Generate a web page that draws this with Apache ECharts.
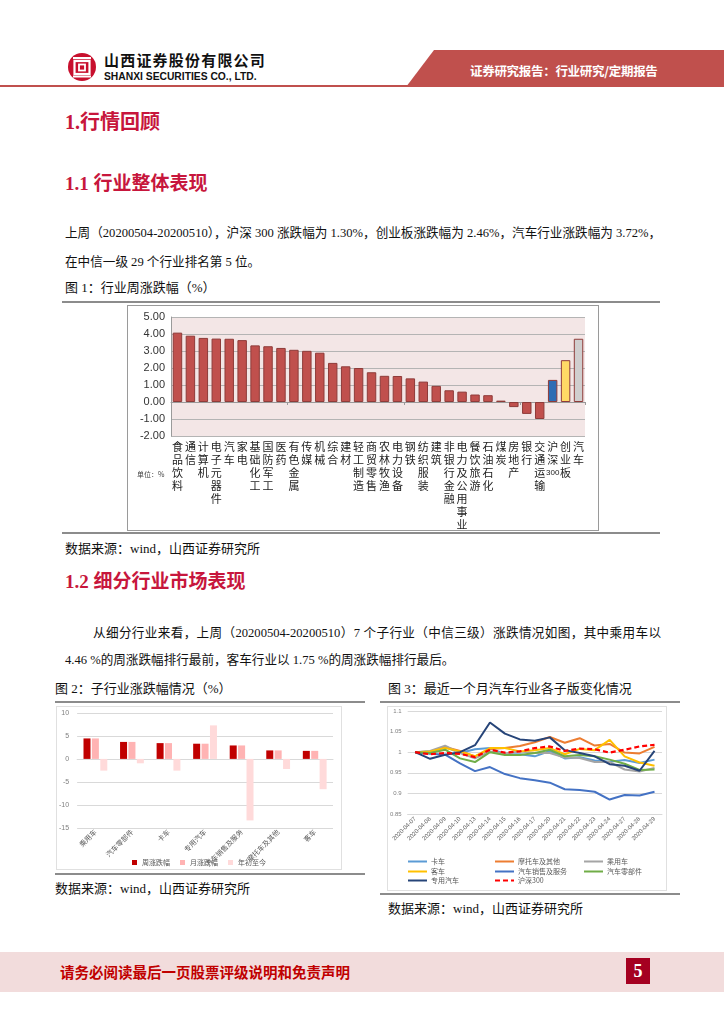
<!DOCTYPE html>
<html><head><meta charset="utf-8">
<script src="https://cdn.jsdelivr.net/npm/echarts@6/dist/echarts.min.js"></script>
<style>
html,body{margin:0;padding:0;background:#fff;}
#page{position:relative;width:724px;height:1024px;overflow:hidden;font-family:"Liberation Serif","Noto Sans CJK SC",serif;color:#111;}
.t{position:absolute;white-space:nowrap;}
.h{color:#C7163C;font-weight:bold;}
.p{font-size:12.6px;line-height:16px;}
.j{text-align:justify;text-align-last:justify;}
.cap{font-size:13px;line-height:16px;}
.rule{position:absolute;height:2px;background:#8c8c8c;}
.box{position:absolute;box-sizing:border-box;}
</style></head>
<body><div id="page">
<!-- header -->
<svg class="t" style="left:67px;top:52px" width="30" height="30" viewBox="0 0 30 30">
 <circle cx="15" cy="15" r="14" fill="#C8102E"/>
 <rect x="6" y="5" width="18" height="2.2" fill="#fff"/>
 <rect x="7.5" y="9" width="15" height="13" fill="none" stroke="#fff" stroke-width="2.2"/>
 <rect x="12" y="12.5" width="6" height="6" fill="none" stroke="#fff" stroke-width="1.8"/>
 <rect x="6" y="23.5" width="18" height="2" fill="#fff"/>
</svg>
<div class="t" style="left:104px;top:50px;font-family:'Noto Sans CJK SC';font-weight:bold;font-size:15px;letter-spacing:1.2px;line-height:20px;color:#111">山西证券股份有限公司</div>
<div class="t" style="left:104px;top:70px;font-family:'Liberation Sans';font-weight:bold;font-size:10.3px;line-height:14px;color:#111">SHANXI SECURITIES CO., LTD.</div>
<div class="t" style="left:0;top:85px;width:440px;height:2px;background:#C0504D"></div>
<div class="t" style="left:406px;top:50px;width:318px;height:37px;background:#C0504D;clip-path:polygon(28px 0,100% 0,100% 100%,0 100%)"></div>
<div class="t" style="left:470px;top:62px;font-family:'Noto Sans CJK SC';font-weight:bold;font-size:12.5px;line-height:18px;color:#fff;letter-spacing:-0.3px">证券研究报告：行业研究/定期报告</div>

<div class="t h" style="left:65px;top:109px;font-size:20px;line-height:26px">1.行情回顾</div>
<div class="t h" style="left:65px;top:171px;font-size:19px;line-height:26px">1.1 行业整体表现</div>
<div class="t p j" style="left:65px;top:225px;width:596px">上周（20200504-20200510），沪深 300 涨跌幅为 1.30%，创业板涨跌幅为 2.46%，汽车行业涨跌幅为 3.72%，</div>
<div class="t p" style="left:65px;top:254px">在中信一级 29 个行业排名第 5 位。</div>
<div class="t cap" style="left:65px;top:280px">图 1：行业周涨跌幅（%）</div>
<div class="rule" style="left:62px;top:301px;width:598px"></div>
<div class="box" style="left:127px;top:305px;width:472px;height:226px;border:1px solid #9a9a9a"></div>
<div id="c1" class="box" style="left:127px;top:305px;width:472px;height:226px"></div>
<div class="rule" style="left:62px;top:532px;width:598px"></div>
<div class="t cap" style="left:65px;top:541px">数据来源：wind，山西证券研究所</div>

<div class="t h" style="left:65px;top:569px;font-size:19px;line-height:26px">1.2 细分行业市场表现</div>
<div class="t p j" style="left:93px;top:625px;width:568px">从细分行业来看，上周（20200504-20200510）7 个子行业（中信三级）涨跌情况如图，其中乘用车以</div>
<div class="t p" style="left:65px;top:652px">4.46 %的周涨跌幅排行最前，客车行业以 1.75 %的周涨跌幅排行最后。</div>

<div class="t cap" style="left:55px;top:681px">图 2：子行业涨跌幅情况（%）</div>
<div class="t cap" style="left:388px;top:681px">图 3：最近一个月汽车行业各子版变化情况</div>
<div class="rule" style="left:55px;top:701px;width:310px"></div>
<div class="rule" style="left:380px;top:701px;width:300px"></div>
<div class="box" style="left:56px;top:706px;width:286px;height:164px;border:1px solid #e0e0e0"></div>
<div id="c2" class="box" style="left:56px;top:706px;width:286px;height:164px"></div>
<div class="box" style="left:387px;top:706px;width:280px;height:185px;border:1px solid #e0e0e0"></div>
<div id="c3" class="box" style="left:387px;top:706px;width:280px;height:185px"></div>
<div class="rule" style="left:55px;top:873px;width:310px"></div>
<div class="rule" style="left:380px;top:893px;width:300px"></div>
<div class="t cap" style="left:55px;top:881px">数据来源：wind，山西证券研究所</div>
<div class="t cap" style="left:388px;top:901px">数据来源：wind，山西证券研究所</div>

<!-- footer -->
<div class="t" style="left:0;top:952px;width:724px;height:40px;background:#F2DCDC"></div>
<div class="t" style="left:60px;top:962px;font-family:'Noto Sans CJK SC';font-weight:bold;font-size:14.5px;line-height:20px;color:#C00000">请务必阅读最后一页股票评级说明和免责声明</div>
<div class="t" style="left:626px;top:958px;width:24px;height:26px;background:#A50021;color:#fff;font-family:'Liberation Serif';font-weight:bold;font-size:18px;line-height:26px;text-align:center">5</div>
</div>
<script>
// ---------- Chart 1 data ----------
const industryNames = ['食品饮料','通信','计算机','电子元器件','汽车','家电','基础化工','国防军工','医药','有色金属','传媒','机械','综合','建材','轻工制造','商贸零售','农林牧渔','电力设备','钢铁','纺织服装','建筑','非银行金融','电力及公用事业','餐饮旅游','石油石化','煤炭','房地产','银行','交通运输','沪深300','创业板','汽车'];
const industryValues = [4.08,3.90,3.77,3.73,3.72,3.64,3.33,3.28,3.18,3.07,3.01,2.90,2.30,2.10,2.00,1.75,1.54,1.53,1.39,1.20,0.95,0.69,0.61,0.44,0.40,0.08,-0.30,-0.70,-1.00,1.30,2.46,3.72];
const yTicks1 = [-2,-1,0,1,2,3,4,5];

// ---------- Chart 2 data ----------
const subIndustries = ['乘用车','汽车零部件','卡车','专用汽车','汽车销售及服务','摩托车及其他','客车'];
const weeklyChange = [4.46,3.70,3.44,3.31,2.93,1.85,1.75];
const monthlyChange = [4.46,3.70,3.44,3.31,2.93,1.85,1.75];
const ytdChange = [-2.55,-0.96,-2.55,7.30,-13.40,-2.20,-6.60];

// ---------- Chart 3 data ----------
const dates = ['2020-04-07','2020-04-08','2020-04-09','2020-04-10','2020-04-13','2020-04-14','2020-04-15','2020-04-16','2020-04-17','2020-04-20','2020-04-21','2020-04-22','2020-04-23','2020-04-24','2020-04-27','2020-04-28','2020-04-29'];
const truck      = [1.000,1.002,1.013,0.998,1.007,1.010,0.995,0.995,0.990,1.003,0.985,0.988,0.980,0.977,0.981,0.974,0.982];
const motorcycle = [1.000,1.000,1.013,1.003,0.990,1.008,1.010,1.015,1.024,1.037,1.023,1.034,1.016,1.020,0.999,0.997,1.013];
const passenger  = [1.000,1.003,1.016,0.998,0.985,1.002,0.997,1.002,0.998,0.998,0.987,0.986,0.976,0.976,0.958,0.953,0.962];
const bus        = [1.000,1.002,1.010,1.002,0.990,1.010,1.010,1.002,1.005,1.010,0.995,1.008,1.005,1.030,0.990,0.975,0.967];
const autoSales  = [1.000,0.996,0.994,0.973,0.954,0.964,0.947,0.937,0.932,0.926,0.910,0.908,0.904,0.885,0.896,0.895,0.904];
const autoParts  = [1.000,0.998,1.006,0.985,0.976,1.000,0.993,0.993,0.998,1.006,0.990,0.993,0.990,0.982,0.972,0.957,0.958];
const specialVeh = [1.000,0.984,0.994,1.000,1.017,1.072,1.045,1.031,1.028,1.036,1.005,0.998,0.990,0.971,0.967,0.955,1.003];
const csi300     = [1.000,0.995,0.998,0.996,0.988,1.006,0.999,1.002,1.010,1.014,1.003,1.009,1.007,0.999,1.006,1.014,1.018];

const CJK = "'Noto Sans CJK SC', sans-serif";

// ---------- Chart 1 ----------
(function(){
  const ch = echarts.init(document.getElementById('c1'), null, {renderer:'canvas'});
  const n = industryNames.length;
  const colorFor = i => i === n-3 ? '#2E6DB4' : i === n-2 ? '#FFD966' : i === n-1 ? '#D0CECE' : '#C0504D';
  const fmt = name => {
    const parts = name.match(/\d+|./g);
    return parts.map(p => /\d/.test(p) ? '{d|' + p + '}' : p).join('\n');
  };
  ch.setOption({
    animation:false,
    grid:{left:44,right:14,top:12,bottom:91,show:true,backgroundColor:'#F3E6E6',borderWidth:0},
    xAxis:[
      {type:'category',data:industryNames,axisLine:{onZero:true,lineStyle:{color:'#9a9a9a'}},
       axisTick:{show:true,length:3,lineStyle:{color:'#9a9a9a'}},axisLabel:{show:false}},
      {type:'category',data:industryNames,position:'bottom',axisLine:{show:false,onZero:false},axisTick:{show:false},
       axisLabel:{interval:0,margin:4,fontSize:11,lineHeight:13,color:'#222',fontFamily:CJK,formatter:fmt,
         rich:{d:{fontSize:8,fontFamily:'Liberation Sans',color:'#222',lineHeight:13}}}}
    ],
    yAxis:{type:'value',min:yTicks1[0],max:yTicks1[yTicks1.length-1],interval:1,
      axisLine:{show:true,lineStyle:{color:'#9a9a9a'}},axisTick:{show:false},
      splitLine:{lineStyle:{color:'#b4b4b4'}},
      axisLabel:{fontSize:11,color:'#333',fontFamily:'Liberation Sans',margin:6,formatter:v=>v.toFixed(2)}},
    series:[{type:'bar',xAxisIndex:0,barWidth:'73%',
      data:industryValues.map((v,i)=>({value:v,itemStyle:{color:colorFor(i),borderColor:'#8E3B39',borderWidth:1}}))}],
    graphic:[{type:'text',left:10,top:166,style:{text:'单位：%',fontSize:7,fill:'#444',fontFamily:CJK}}]
  });
})();

// ---------- Chart 2 ----------
(function(){
  const ch = echarts.init(document.getElementById('c2'));
  const lbl = {fontSize:7,color:'#595959',fontFamily:CJK};
  ch.setOption({
    animation:false,
    legend:{top:148,left:'center',icon:'rect',itemWidth:5,itemHeight:5,itemGap:10,textStyle:lbl,
      data:['周涨跌幅','月涨跌幅','年初至今']},
    grid:{left:20,right:9,top:7,bottom:26},
    xAxis:{type:'category',data:subIndustries,axisLine:{onZero:true,lineStyle:{color:'#d9d9d9'}},axisTick:{show:false},
      axisLabel:{interval:0,rotate:45,margin:3,fontSize:7,color:'#595959',fontFamily:CJK}},
    yAxis:{type:'value',min:-15,max:10,interval:5,axisLine:{show:false},axisTick:{show:false},
      splitLine:{lineStyle:{color:'#d9d9d9'}},axisLabel:{fontSize:7,color:'#7f7f7f',fontFamily:'Liberation Sans',margin:8}},
    series:[
      {name:'周涨跌幅',type:'bar',data:weeklyChange,barWidth:7,barGap:'20%',itemStyle:{color:'#C00000'}},
      {name:'月涨跌幅',type:'bar',data:monthlyChange,barWidth:7,barGap:'20%',itemStyle:{color:'#FFB3B3'}},
      {name:'年初至今',type:'bar',data:ytdChange,barWidth:7,barGap:'20%',itemStyle:{color:'#FFDADA'}}
    ]
  });
})();

// ---------- Chart 3 ----------
(function(){
  const ch = echarts.init(document.getElementById('c3'));
  const seriesDefs = [
    ['卡车',truck,'#5B9BD5'],
    ['摩托车及其他',motorcycle,'#ED7D31'],
    ['乘用车',passenger,'#A5A5A5'],
    ['客车',bus,'#FFC000'],
    ['汽车销售及服务',autoSales,'#4472C4'],
    ['汽车零部件',autoParts,'#70AD47'],
    ['专用汽车',specialVeh,'#264478'],
    ['沪深300',csi300,'#FF0000']
  ];
  const cols = [20,107,196], rows = [152,162,171];
  const legends = seriesDefs.map((d,i)=>({data:[d[0]],left:cols[i%3],top:rows[Math.floor(i/3)],
    itemWidth:19,itemHeight:8,itemGap:0,padding:0,itemStyle:{opacity:0,borderWidth:0},
    textStyle:{fontSize:7,color:'#595959',fontFamily:CJK,padding:[0,0,0,-1]}}));
  ch.setOption({
    animation:false,
    legend:legends,
    grid:{left:20,right:5,top:5,bottom:77},
    xAxis:{type:'category',data:dates,axisLine:{lineStyle:{color:'#d9d9d9'}},axisTick:{show:false},
      axisLabel:{interval:0,rotate:45,margin:4,fontSize:6,color:'#595959',fontFamily:'Liberation Sans'}},
    yAxis:{type:'value',min:0.85,max:1.1,interval:0.05,axisLine:{show:false},axisTick:{show:false},
      splitLine:{lineStyle:{color:'#d9d9d9'}},axisLabel:{fontSize:6,color:'#7f7f7f',fontFamily:'Liberation Sans',margin:6,
      formatter:v=>String(+v.toFixed(2))}},
    series:seriesDefs.map((d,i)=>({name:d[0],type:'line',data:d[1],symbol:'none',
      lineStyle:{color:d[2],width:i===7?2.2:2,type:i===7?[5,3]:'solid'},itemStyle:{color:d[2]},z:i===7?5:2}))
  });
})();
</script>
</body></html>
